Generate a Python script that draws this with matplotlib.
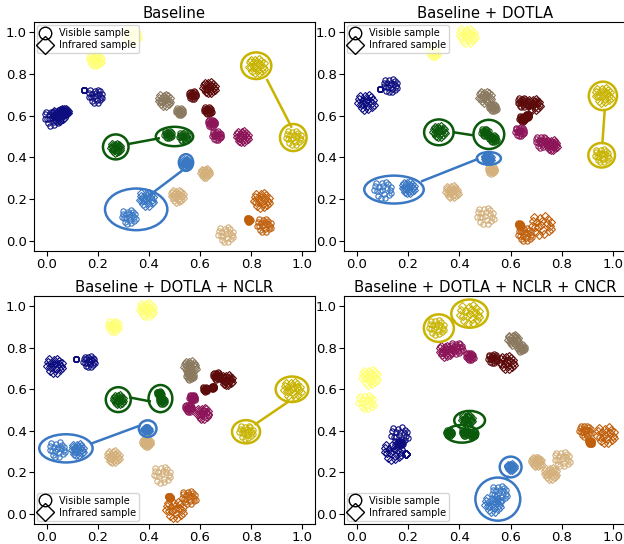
import matplotlib
matplotlib.use("Agg")
import matplotlib.pyplot as plt
from matplotlib.patches import Ellipse
from matplotlib.lines import Line2D

# identity colours
colors = {
    "navy": "#0d0d80",
    "pyel": "#ffff73",
    "gold": "#c8b400",
    "grey": "#8b7a60",
    "maroon": "#5c0a0a",
    "mag": "#8c1458",
    "green": "#0b5a0b",
    "blue": "#3a78c4",
    "tan": "#d4b07c",
    "orange": "#c0600c",
}

titles = ["Baseline", "Baseline + DOTLA", "Baseline + DOTLA + NCLR",
          "Baseline + DOTLA + NCLR + CNCR"]

# hand-placed point layout inside one cluster (unit disc)
cluster_shape = [(0, 0), (0.5, 0.2), (-0.4, 0.3), (0.2, -0.5), (-0.6, -0.2),
                 (0.8, -0.1), (-0.1, 0.7), (0.6, 0.6), (-0.8, 0.4), (0.3, -0.9),
                 (-0.5, -0.7), (0.9, 0.3), (-0.3, -0.2), (0.1, 0.35),
                 (0.7, -0.6), (-0.9, -0.1), (0.35, 0.85), (-0.7, 0.75),
                 (0.95, -0.35), (-0.2, -0.95)]

# clusters: (identity, 'o' visible / 'D' infrared, x, y, spread)
base_clusters = [
    ("pyel", "o", 0.33, 0.985, 0.02), ("pyel", "D", 0.19, 0.87, 0.015),
    ("navy", "o", 0.02, 0.59, 0.02), ("navy", "D", 0.045, 0.60, 0.015),
    ("navy", "D", 0.07, 0.62, 0.008), ("navy", "o", 0.19, 0.695, 0.018),
    ("navy", "o", 0.145, 0.725, 0.0),
    ("grey", "D", 0.46, 0.675, 0.015), ("grey", "o", 0.52, 0.62, 0.01),
    ("maroon", "o", 0.57, 0.70, 0.01), ("maroon", "D", 0.635, 0.735, 0.015),
    ("maroon", "o", 0.63, 0.625, 0.01),
    ("mag", "o", 0.645, 0.565, 0.01), ("mag", "o", 0.665, 0.505, 0.012),
    ("mag", "D", 0.765, 0.50, 0.015),
    ("green", "D", 0.27, 0.445, 0.012), ("green", "o", 0.475, 0.51, 0.01),
    ("green", "o", 0.535, 0.50, 0.012),
    ("blue", "D", 0.545, 0.375, 0.008), ("blue", "D", 0.39, 0.20, 0.018),
    ("blue", "o", 0.32, 0.115, 0.018),
    ("tan", "D", 0.62, 0.325, 0.01), ("tan", "D", 0.51, 0.215, 0.015),
    ("tan", "o", 0.70, 0.03, 0.02),
    ("orange", "D", 0.84, 0.195, 0.02), ("orange", "o", 0.85, 0.075, 0.018),
    ("orange", "o", 0.79, 0.10, 0.005),
    ("gold", "D", 0.82, 0.84, 0.02), ("gold", "o", 0.965, 0.495, 0.02),
]
dotla_clusters = [
    ("pyel", "D", 0.43, 0.985, 0.02), ("pyel", "o", 0.30, 0.905, 0.012),
    ("navy", "D", 0.035, 0.665, 0.02), ("navy", "o", 0.13, 0.745, 0.018),
    ("navy", "o", 0.09, 0.73, 0.0),
    ("grey", "D", 0.50, 0.69, 0.015), ("grey", "o", 0.53, 0.64, 0.01),
    ("maroon", "o", 0.645, 0.665, 0.012), ("maroon", "D", 0.69, 0.655, 0.015),
    ("maroon", "o", 0.645, 0.585, 0.008), ("maroon", "o", 0.665, 0.60, 0.005),
    ("mag", "o", 0.635, 0.525, 0.012), ("mag", "o", 0.72, 0.475, 0.015),
    ("mag", "D", 0.76, 0.46, 0.013),
    ("green", "D", 0.32, 0.525, 0.015), ("green", "o", 0.50, 0.52, 0.01),
    ("green", "o", 0.53, 0.49, 0.01),
    ("blue", "D", 0.51, 0.395, 0.008), ("blue", "o", 0.10, 0.245, 0.022),
    ("blue", "D", 0.20, 0.255, 0.015),
    ("tan", "o", 0.525, 0.34, 0.01), ("tan", "D", 0.37, 0.235, 0.015),
    ("tan", "o", 0.50, 0.12, 0.022),
    ("orange", "o", 0.655, 0.03, 0.018), ("orange", "o", 0.635, 0.075, 0.005),
    ("orange", "D", 0.72, 0.075, 0.025),
    ("gold", "D", 0.96, 0.70, 0.02), ("gold", "o", 0.955, 0.41, 0.018),
]
nclr_clusters = [
    ("pyel", "D", 0.39, 0.985, 0.018), ("pyel", "o", 0.26, 0.905, 0.015),
    ("navy", "D", 0.03, 0.715, 0.02), ("navy", "o", 0.165, 0.735, 0.015),
    ("navy", "o", 0.115, 0.745, 0.0),
    ("grey", "D", 0.56, 0.71, 0.015), ("grey", "o", 0.56, 0.665, 0.01),
    ("maroon", "o", 0.665, 0.665, 0.01), ("maroon", "D", 0.705, 0.645, 0.013),
    ("maroon", "o", 0.62, 0.60, 0.006), ("maroon", "o", 0.65, 0.61, 0.004),
    ("mag", "o", 0.57, 0.56, 0.008), ("mag", "o", 0.555, 0.51, 0.01),
    ("mag", "D", 0.61, 0.485, 0.015),
    ("green", "D", 0.28, 0.55, 0.012), ("green", "o", 0.44, 0.58, 0.006),
    ("green", "o", 0.45, 0.545, 0.008),
    ("blue", "D", 0.39, 0.405, 0.006), ("blue", "o", 0.04, 0.31, 0.02),
    ("blue", "D", 0.12, 0.31, 0.015),
    ("tan", "D", 0.39, 0.345, 0.01), ("tan", "D", 0.26, 0.275, 0.015),
    ("tan", "o", 0.45, 0.19, 0.022),
    ("orange", "o", 0.48, 0.08, 0.004), ("orange", "o", 0.555, 0.08, 0.018),
    ("orange", "D", 0.50, 0.02, 0.022),
    ("gold", "D", 0.96, 0.60, 0.022), ("gold", "o", 0.78, 0.395, 0.018),
]
cncr_clusters = [
    ("gold", "o", 0.31, 0.90, 0.02), ("gold", "D", 0.44, 0.965, 0.025),
    ("mag", "D", 0.345, 0.785, 0.015), ("mag", "o", 0.39, 0.80, 0.015),
    ("mag", "o", 0.44, 0.76, 0.01),
    ("maroon", "o", 0.53, 0.75, 0.012), ("maroon", "D", 0.585, 0.73, 0.018),
    ("grey", "D", 0.61, 0.84, 0.013), ("grey", "o", 0.64, 0.80, 0.01),
    ("pyel", "D", 0.05, 0.66, 0.02), ("pyel", "o", 0.035, 0.54, 0.02),
    ("navy", "o", 0.165, 0.38, 0.022), ("navy", "D", 0.14, 0.30, 0.022),
    ("navy", "D", 0.19, 0.29, 0.0), ("navy", "o", 0.17, 0.34, 0.006),
    ("green", "D", 0.43, 0.455, 0.013), ("green", "o", 0.36, 0.39, 0.008),
    ("green", "o", 0.42, 0.39, 0.008), ("green", "o", 0.45, 0.38, 0.006),
    ("blue", "D", 0.60, 0.225, 0.008), ("blue", "o", 0.555, 0.10, 0.02),
    ("blue", "D", 0.53, 0.045, 0.02),
    ("tan", "D", 0.70, 0.25, 0.012), ("tan", "D", 0.755, 0.195, 0.015),
    ("tan", "o", 0.80, 0.265, 0.02),
    ("orange", "o", 0.89, 0.40, 0.015), ("orange", "o", 0.91, 0.345, 0.006),
    ("orange", "D", 0.97, 0.38, 0.022),
]

# highlight rings: (identity, x, y, width, height)
base_rings = [("gold", 0.82, 0.84, 0.118, 0.128), ("gold", 0.965, 0.495, 0.104, 0.13),
              ("green", 0.27, 0.45, 0.10, 0.12), ("green", 0.50, 0.50, 0.146, 0.093),
              ("blue", 0.545, 0.375, 0.056, 0.08), ("blue", 0.35, 0.15, 0.244, 0.20)]
dotla_rings = [("gold", 0.96, 0.695, 0.11, 0.137), ("gold", 0.955, 0.41, 0.104, 0.118),
               ("green", 0.32, 0.52, 0.115, 0.124), ("green", 0.515, 0.51, 0.12, 0.14),
               ("blue", 0.515, 0.395, 0.094, 0.061), ("blue", 0.145, 0.245, 0.232, 0.134)]
nclr_rings = [("gold", 0.96, 0.60, 0.128, 0.123), ("gold", 0.78, 0.395, 0.11, 0.112),
              ("green", 0.28, 0.55, 0.098, 0.12), ("green", 0.445, 0.555, 0.093, 0.131),
              ("blue", 0.395, 0.41, 0.069, 0.08), ("blue", 0.075, 0.315, 0.209, 0.136)]
cncr_rings = [("gold", 0.32, 0.895, 0.117, 0.133), ("gold", 0.44, 0.965, 0.143, 0.136),
              ("green", 0.44, 0.45, 0.12, 0.091), ("green", 0.41, 0.385, 0.128, 0.085),
              ("blue", 0.60, 0.225, 0.085, 0.10), ("blue", 0.55, 0.07, 0.175, 0.208)]

# connecting lines: (identity, x1, y1, x2, y2)
base_links = [("gold", 0.863, 0.771, 0.957, 0.547), ("green", 0.32, 0.464, 0.438, 0.491),
              ("blue", 0.533, 0.339, 0.412, 0.227)]
dotla_links = [("gold", 0.967, 0.627, 0.958, 0.469), ("green", 0.379, 0.52, 0.448, 0.507),
               ("blue", 0.255, 0.286, 0.47, 0.391)]
nclr_links = [("gold", 0.817, 0.432, 0.941, 0.536), ("green", 0.327, 0.56, 0.403, 0.542),
              ("blue", 0.176, 0.339, 0.363, 0.424)]
cncr_links = [("gold", 0.372, 0.925, 0.38, 0.93), ("blue", 0.59, 0.177, 0.585, 0.17)]

panels = [
    (base_clusters, base_rings, base_links, "upper left"),
    (dotla_clusters, dotla_rings, dotla_links, "upper left"),
    (nclr_clusters, nclr_rings, nclr_links, "lower left"),
    (cncr_clusters, cncr_rings, cncr_links, "lower left"),
]

W, H = 624, 544
fig = plt.figure(figsize=(W / 100, H / 100), dpi=100)
# axes boxes in pixels: left, top, right, bottom
boxes = [(34, 22, 315, 251), (344, 22, 626, 251),
         (34, 296, 315, 524), (344, 296, 626, 524)]
yscale = 256 / 209.0  # keep clusters round on screen
grow = 1.6            # blobs look wider than their core

for i, (clusters, rings, links, legloc) in enumerate(panels):
    l, t, r, b = boxes[i]
    ax = fig.add_axes([l / W, 1 - b / H, (r - l) / W, (b - t) / H])

    for key, mk, x, y, s in clusters:
        s = s * grow
        xs = [x + s * dx for dx, dy in cluster_shape]
        ys = [y + s * yscale * dy for dx, dy in cluster_shape]
        ms = 3.8 if mk == "o" else 4.3
        ax.plot(xs, ys, linestyle="none", marker=mk, ms=ms, mfc="none",
                mec=colors[key], mew=0.8)

    for key, x, y, w, h in rings:
        ax.add_patch(Ellipse((x, y), w, h, fill=False, edgecolor=colors[key],
                             lw=1.8, zorder=3))
    for key, x1, y1, x2, y2 in links:
        ax.plot([x1, x2], [y1, y2], color=colors[key], lw=1.8, zorder=3)

    ax.set_xlim(-0.05, 1.05)
    ax.set_ylim(-0.05, 1.05)
    ax.set_xticks([0.0, 0.2, 0.4, 0.6, 0.8, 1.0])
    ax.set_yticks([0.0, 0.2, 0.4, 0.6, 0.8, 1.0])
    ax.tick_params(labelsize=9.5, pad=1.5)
    ax.set_title(titles[i], fontsize=10.7, pad=3)

    handles = [
        Line2D([], [], linestyle="none", marker="o", ms=9, mfc="none",
               mec="black", mew=1.0, label="Visible sample"),
        Line2D([], [], linestyle="none", marker="D", ms=9, mfc="none",
               mec="black", mew=1.0, label="Infrared sample"),
    ]
    ax.legend(handles=handles, loc=legloc, fontsize=7, handlelength=1.0,
              handletextpad=0.9, labelspacing=0.2, borderpad=0.3,
              borderaxespad=0.35)

fig.savefig("out.png", dpi=100)
